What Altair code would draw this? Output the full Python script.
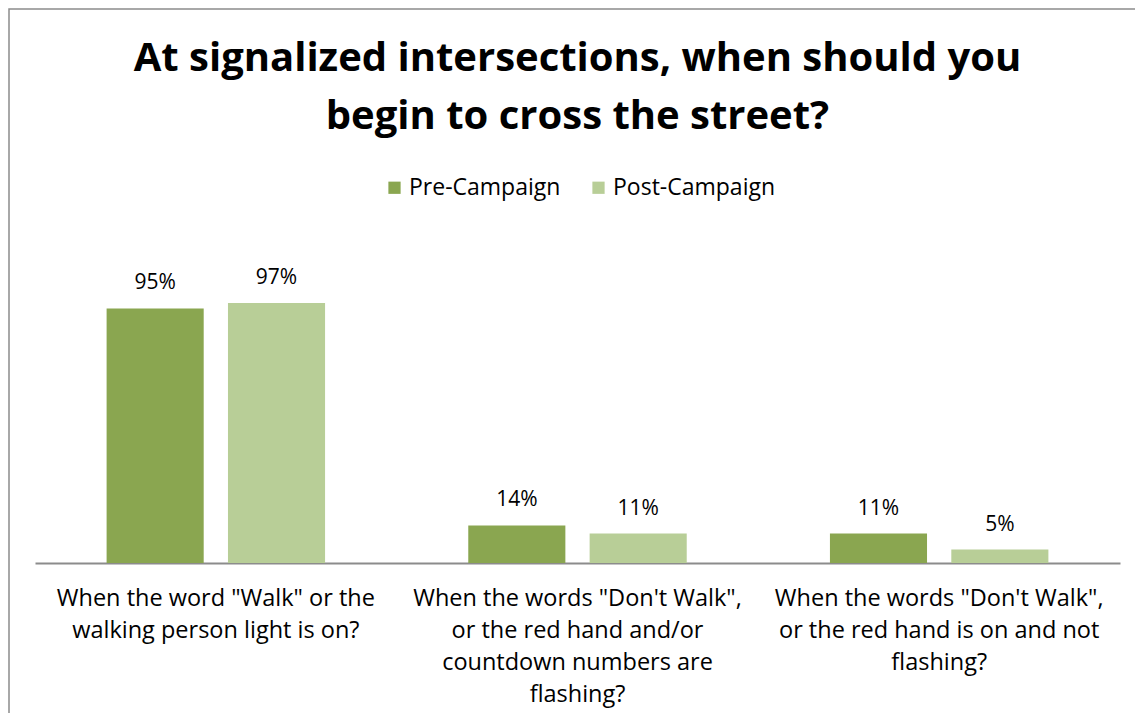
import altair as alt
import pandas as pd

title_lines = ["At signalized intersections, when should you", "begin to cross the street?"]
categories = [
    'When the word "Walk" or the|walking person light is on?',
    'When the words "Don\'t Walk",|or the red hand and/or|countdown numbers are|flashing?',
    'When the words "Don\'t Walk",|or the red hand is on and not|flashing?',
]
series = ["Pre-Campaign", "Post-Campaign"]
pre_values = [95, 14, 11]
post_values = [97, 11, 5]
colors = ["#8AA650", "#B8CE97"]

rows = []
for c, v in zip(categories, pre_values):
    rows.append({"category": c, "series": series[0], "value": v})
for c, v in zip(categories, post_values):
    rows.append({"category": c, "series": series[1], "value": v})
df = pd.DataFrame(rows)

FONT = "Open Sans"

x_enc = alt.X(
    "category:N",
    sort=categories,
    scale=alt.Scale(paddingInner=0, paddingOuter=0),
    axis=alt.Axis(
        title=None,
        labelExpr="split(datum.label, '|')",
        labelAngle=0,
        labelFontSize=23.5,
        labelFont=FONT,
        labelColor="#000000",
        labelLineHeight=32,
        labelPadding=23,
        labelLimit=400,
        labelBaseline="top",
        ticks=False,
        domainColor="#8C8C8C",
        domainWidth=2,
        grid=False,
    ),
)
xoff_enc = alt.XOffset(
    "series:N", sort=series, scale=alt.Scale(paddingInner=0.2, paddingOuter=0.59)
)
y_enc = alt.Y("value:Q", scale=alt.Scale(domain=[0, 100]), axis=None)

base = alt.Chart(df)

bars = base.mark_bar().encode(
    x=x_enc,
    xOffset=xoff_enc,
    y=y_enc,
    color=alt.Color(
        "series:N",
        sort=series,
        scale=alt.Scale(domain=series, range=colors),
        legend=alt.Legend(
            title=None,
            orient="none",
            legendX=348,
            legendY=-119,
            direction="horizontal",
            symbolType="square",
            symbolSize=150,
            symbolStrokeWidth=0,
            labelFont=FONT,
            labelFontSize=23,
            labelColor="#000000",
            labelOffset=3,
            labelLimit=300,
            columnPadding=26,
            padding=0,
        ),
    ),
)

labels = base.transform_calculate(lbl="datum.value + '%'").mark_text(
    font=FONT, fontSize=21, color="#000000", dy=-19, baseline="alphabetic"
).encode(x=x_enc, xOffset=xoff_enc, y=y_enc, text="lbl:N")

border = alt.Chart(pd.DataFrame({"a": [0]})).mark_rect(
    fill=None, stroke="#8C8C8C", strokeWidth=1.5
).encode(x=alt.value(-26), x2=alt.value(1300), y=alt.value(-286), y2=alt.value(1000))

chart = (
    alt.layer(border, bars, labels)
    .properties(
        width=1085,
        height=268,
        title=alt.TitleParams(
            text=title_lines,
            font=FONT,
            fontSize=40,
            fontWeight="bold",
            color="#000000",
            lineHeight=58,
            anchor="middle",
            offset=-129,
        ),
        autosize=alt.AutoSizeParams(type="none"),
        padding={"left": 27, "top": 287, "right": 15, "bottom": 150},
    )
    .configure_view(stroke=None)
)

chart.save("out.html", embed_options={"renderer": "svg", "actions": False})
